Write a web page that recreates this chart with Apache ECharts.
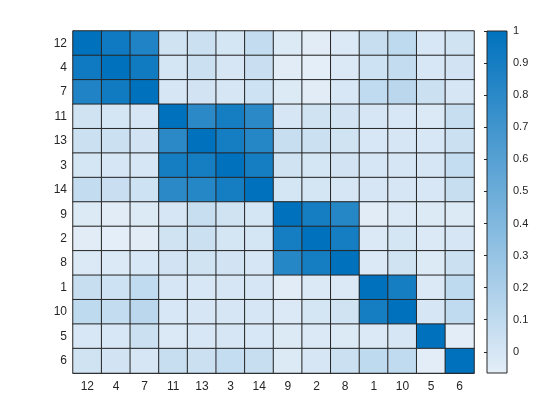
<!DOCTYPE html>
<html>
<head>
<meta charset="utf-8">
<script src="https://cdn.jsdelivr.net/npm/echarts@6/dist/echarts.min.js"></script>
<style>html,body{margin:0;padding:0;background:#fff}#c{width:560px;height:420px}</style>
</head>
<body>
<div id="c"></div>
<script>
var labels = ['12','4','7','11','13','3','14','9','2','8','1','10','5','6'];
var row12 = [1.00, 0.93, 0.85, 0.03, 0.05, 0.01, 0.09, -0.03, -0.05, -0.02, 0.07, 0.11, -0.01, 0.03];
var row4  = [0.93, 1.00, 0.92, 0.01, 0.05, 0.00, 0.06, -0.05, -0.07, -0.02, 0.04, 0.09, -0.01, 0.02];
var row7  = [0.85, 0.92, 1.00, 0.00, 0.02, 0.00, 0.04, -0.03, -0.05, -0.01, 0.10, 0.13, 0.05, 0.00];
var row11 = [0.03, 0.01, 0.00, 1.00, 0.80, 0.90, 0.80, 0.00, 0.03, 0.02, 0.00, -0.01, -0.02, 0.07];
var row13 = [0.05, 0.05, 0.02, 0.80, 1.00, 0.90, 0.82, 0.07, 0.05, 0.03, -0.01, 0.00, -0.01, 0.05];
var row3  = [0.01, 0.00, 0.00, 0.90, 0.90, 1.00, 0.90, 0.03, 0.01, 0.02, 0.00, 0.00, 0.00, 0.08];
var row14 = [0.09, 0.06, 0.04, 0.80, 0.82, 0.90, 1.00, 0.01, 0.01, 0.00, 0.00, 0.00, -0.01, 0.07];
var row9  = [-0.03, -0.05, -0.03, 0.00, 0.07, 0.03, 0.01, 1.00, 0.90, 0.82, -0.05, -0.02, -0.03, -0.03];
var row2  = [-0.05, -0.07, -0.05, 0.03, 0.05, 0.01, 0.01, 0.90, 1.00, 0.90, -0.02, 0.01, -0.02, 0.00];
var row8  = [-0.02, -0.02, -0.01, 0.02, 0.03, 0.02, 0.00, 0.82, 0.90, 1.00, -0.02, 0.03, -0.03, 0.05];
var row1  = [0.07, 0.04, 0.10, 0.00, -0.01, 0.00, 0.00, -0.05, -0.02, -0.02, 1.00, 0.90, -0.02, 0.11];
var row10 = [0.11, 0.09, 0.13, -0.01, 0.00, 0.00, 0.00, -0.02, 0.01, 0.03, 0.90, 1.00, 0.00, 0.10];
var row5  = [-0.01, -0.01, 0.05, -0.02, -0.01, 0.00, -0.01, -0.03, -0.02, -0.03, -0.02, 0.00, 1.00, -0.06];
var row6  = [0.03, 0.02, 0.00, 0.07, 0.05, 0.08, 0.07, -0.03, 0.00, 0.05, 0.11, 0.10, -0.06, 1.00];
var colorTicks = [0, 0.1, 0.2, 0.3, 0.4, 0.5, 0.6, 0.7, 0.8, 0.9, 1];
var cMin = -0.066, cMax = 1;

var rows = [row12,row4,row7,row11,row13,row3,row14,row9,row2,row8,row1,row10,row5,row6];
var data = [];
rows.forEach(function(r, i){ r.forEach(function(v, j){ data.push([j, i, v]); }); });

var lowC = '#E4EEF8', highC = '#0072BD';
var font = 'Liberation Sans, Arial, sans-serif';
var chart = echarts.init(document.getElementById('c'));
chart.setOption({
  animation: false,
  grid: [
    {left: 73, top: 31, width: 401, height: 342, show: false},
    {left: 487, top: 31, width: 20, height: 342, show: false}
  ],
  xAxis: [
    {type: 'category', gridIndex: 0, data: labels,
     axisLine: {show: true, lineStyle: {color: '#262626'}}, axisTick: {show: false},
     axisLabel: {color: '#262626', fontSize: 12, fontFamily: font, margin: 8},
     splitLine: {show: false}},
    {type: 'value', gridIndex: 1, show: false, min: 0, max: 1}
  ],
  yAxis: [
    {type: 'category', gridIndex: 0, data: labels, inverse: true,
     axisLine: {show: true, lineStyle: {color: '#262626'}}, axisTick: {show: false},
     axisLabel: {color: '#262626', fontSize: 12, fontFamily: font, margin: 6},
     splitLine: {show: false}},
    {type: 'value', gridIndex: 1, position: 'right', min: cMin, max: cMax,
     axisLine: {show: false},
     axisTick: {show: true, inside: true, length: 3, lineStyle: {color: '#262626'}, customValues: colorTicks},
     axisLabel: {color: '#262626', fontSize: 11, fontFamily: font, margin: 6, customValues: colorTicks,
       formatter: function(v){ return String(Math.round(v*10)/10); }},
     splitLine: {show: false}}
  ],
  visualMap: {show: false, min: cMin, max: cMax, dimension: 2, seriesIndex: 0,
    inRange: {color: [lowC, highC]}},
  graphic: [
    {type: 'rect', shape: {x: 487, y: 31, width: 20, height: 342}, z: 0,
     style: {fill: new echarts.graphic.LinearGradient(0, 0, 0, 1, [{offset: 0, color: highC}, {offset: 1, color: lowC}]),
       stroke: '#262626', lineWidth: 1}}
  ],
  series: [{
    type: 'heatmap', xAxisIndex: 0, yAxisIndex: 0, data: data,
    itemStyle: {borderColor: '#262626', borderWidth: 1},
    emphasis: {disabled: true}
  }]
});
</script>
</body>
</html>
